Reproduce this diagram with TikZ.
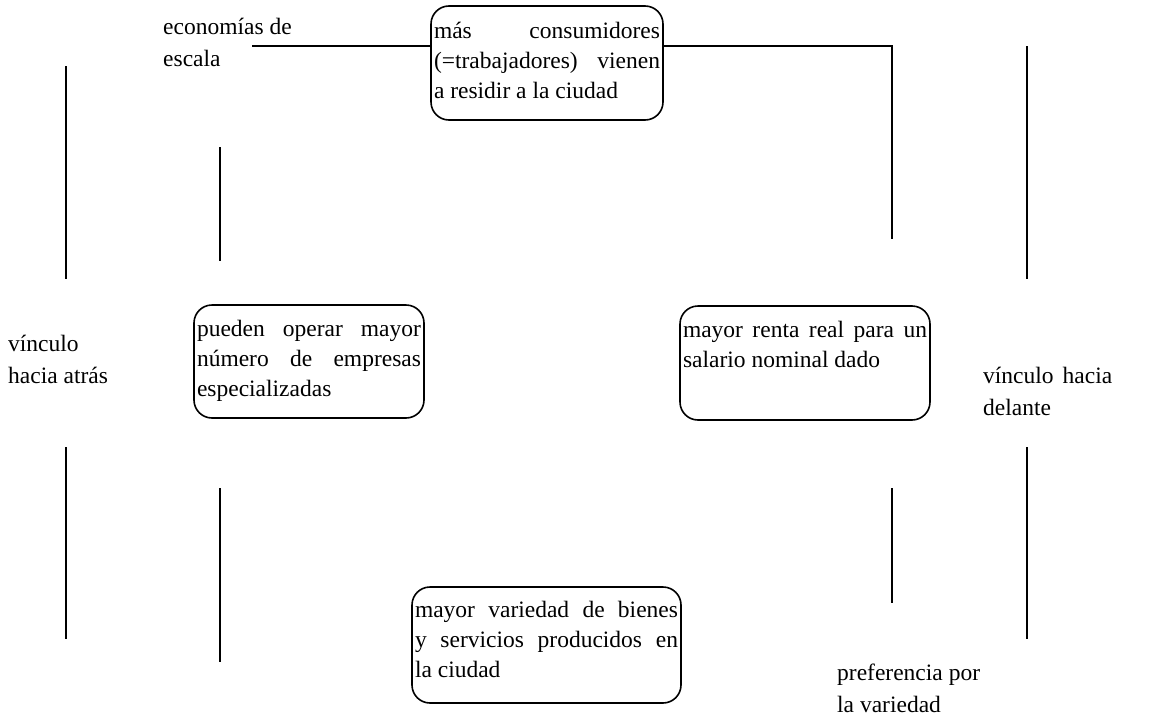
\documentclass[tikz,border=0pt]{standalone}
\usepackage{fontspec}
\setmainfont{Liberation Serif}
\usetikzlibrary{calc}

\tikzset{
    caja/.style={draw, line width=1.6pt, rounded corners=18pt, align=justify,
        inner xsep=3pt, inner ysep=0pt},
    etiqueta/.style={anchor=base west, inner sep=0pt, align=left,
        font=\fontsize{23.5}{32}\selectfont},
    linea/.style={line width=1.6pt}
}
% bottom padding of a box
\newcommand{\fondo}[1]{\rule[-#1]{0pt}{1pt}}

\begin{document}
\begin{tikzpicture}[x=1pt, y=-1pt, font=\fontsize{23.5}{30}\selectfont]
            \useasboundingbox (0,0) rectangle (1149,723);

            % Draw the boxes
            \node[caja, text width=226pt, minimum height=114pt] (arriba) at (547,63)
                {más consumidores\linebreak (=trabajadores) vienen\linebreak a residir a la ciudad\fondo{6pt}};
            \node[caja, text width=224pt, minimum height=113pt] (empresas) at (309,361.5)
                {pueden operar mayor\linebreak número de empresas\linebreak especializadas\fondo{7pt}};
            \node[caja, text width=244pt, minimum height=114pt] (renta) at (805,363)
                {mayor renta real para un\linebreak salario nominal dado\par\fondo{8pt}};
            \node[caja, text width=263pt, minimum height=116pt] (variedad) at (546.5,645)
                {mayor variedad de bienes\linebreak y servicios producidos en\linebreak la ciudad\fondo{12pt}};

            % Draw the labels
            \node[etiqueta] (escala) at (163,66) {economías de\\escala};
            \node[etiqueta] (atras) at (8,383) {vínculo\\hacia atrás};
            \node[etiqueta, text width=129pt, align=justify] (delante) at (983,383) {vínculo hacia\linebreak delante};
            \node[etiqueta] (preferencia) at (837,712) {preferencia por\\la variedad};

            % Draw the line through the top box
            \coordinate (ini) at (252,46);
            \coordinate (codo) at (892,46);
            \coordinate (fin) at (892,239);
            \draw[linea] (ini) -- (arriba.west |- ini);
            \draw[linea] (arriba.east |- codo) -- (codo) -- (fin);

            % Draw the vertical lines
            \foreach \n/\x/\ya/\yb in {a/66/66/279, b/66/447/639, c/220/147/261, d/220/488/662,
                    e/892/488/603, f/1027/46/279, g/1027/447/639} {
                \coordinate (\n1) at (\x,\ya);
                \coordinate (\n2) at (\x,\yb);
                \draw[linea] (\n1) -- (\n2);
            }
        \end{tikzpicture}
\end{document}
